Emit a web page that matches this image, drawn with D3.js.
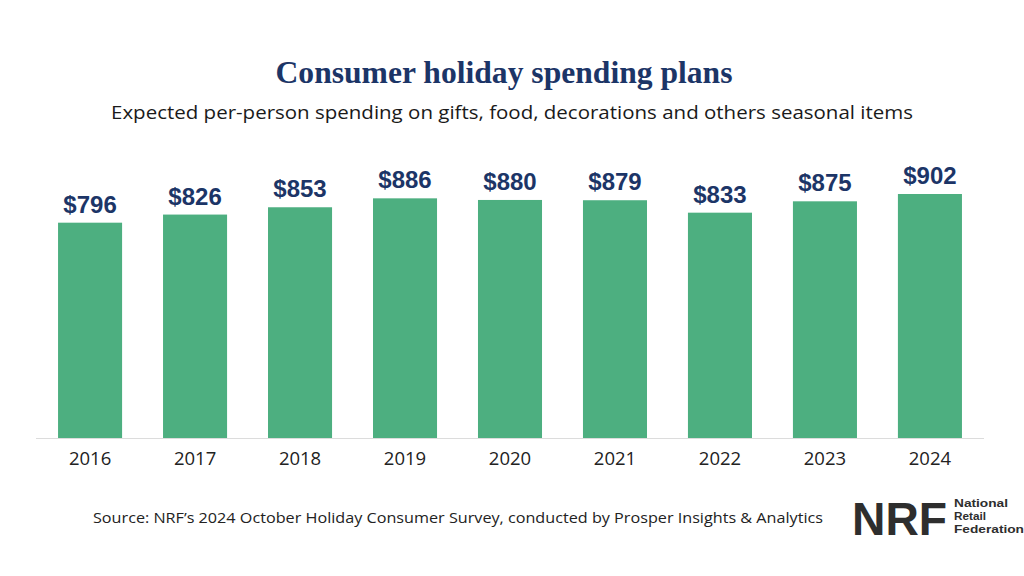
<!DOCTYPE html>
<html>
<head>
<meta charset="utf-8">
<script src="https://cdn.jsdelivr.net/npm/d3@7"></script>
<style>
  html, body { margin: 0; padding: 0; background: #ffffff; }
  svg { display: block; }
</style>
</head>
<body>
<svg id="chart" width="1024" height="576"></svg>
<script>
const years = ["2016", "2017", "2018", "2019", "2020", "2021", "2022", "2023", "2024"];
const spending = [796, 826, 853, 886, 880, 879, 833, 875, 902];
const titleText = "Consumer holiday spending plans";
const subtitleText = "Expected per-person spending on gifts, food, decorations and others seasonal items";
const sourceText = "Source: NRF\u2019s 2024 October Holiday Consumer Survey, conducted by Prosper Insights & Analytics";
const logoLines = ["National", "Retail", "Federation"];
const logoWidths = [54, 32, 70];

const svg = d3.select("#chart");
const W = 1024, H = 576;

svg.append("rect").attr("width", W).attr("height", H).attr("fill", "#ffffff");

const x = d3.scaleBand().domain(years).range([36, 984]).paddingInner(0.39).paddingOuter(0.21);
const y = d3.scaleLinear().domain([0, 1000]).range([438, 167.5]);

// Title
svg.append("text")
  .attr("x", 504).attr("y", 83)
  .attr("text-anchor", "middle")
  .attr("font-family", "'Liberation Serif', 'DejaVu Serif', serif")
  .attr("font-weight", "bold")
  .attr("font-size", 32)
  .attr("fill", "#1c3567")
  .attr("textLength", 457).attr("lengthAdjust", "spacingAndGlyphs")
  .text(titleText);

// Subtitle
svg.append("text")
  .attr("x", 512).attr("y", 119)
  .attr("text-anchor", "middle")
  .attr("font-family", "'Open Sans', 'Noto Sans', sans-serif")
  .attr("font-size", 18)
  .attr("fill", "#1a1a1a")
  .attr("textLength", 802).attr("lengthAdjust", "spacingAndGlyphs")
  .text(subtitleText);

// Bars
svg.append("g").selectAll("rect")
  .data(years.map((d, i) => ({ year: d, value: spending[i] })))
  .join("rect")
  .attr("x", d => x(d.year))
  .attr("y", d => y(d.value))
  .attr("width", x.bandwidth())
  .attr("height", d => y(0) - y(d.value))
  .attr("fill", "#4daf80");

// Value labels
svg.append("g").selectAll("text")
  .data(years.map((d, i) => ({ year: d, value: spending[i] })))
  .join("text")
  .attr("x", d => x(d.year) + x.bandwidth() / 2)
  .attr("y", d => y(d.value) - 10)
  .attr("text-anchor", "middle")
  .attr("font-family", "'Liberation Sans', Arial, sans-serif")
  .attr("font-weight", "bold")
  .attr("font-size", 24)
  .attr("fill", "#1c3567")
  .text(d => "$" + d3.format("d")(d.value));

// X axis
const xAxis = svg.append("g")
  .attr("transform", `translate(0,${y(0)})`)
  .call(d3.axisBottom(x).tickSize(0).tickPadding(14));
xAxis.select(".domain").attr("stroke", "#dcdcdc").attr("stroke-width", 1)
  .attr("d", `M${x.range()[0]},0.5H${x.range()[1]}`);
xAxis.selectAll(".tick text")
  .attr("font-family", "'Open Sans', 'Noto Sans', sans-serif")
  .attr("font-size", 18.5)
  .attr("fill", "#222222");

// Source
svg.append("text")
  .attr("x", 93).attr("y", 523)
  .attr("font-family", "'Open Sans', 'Noto Sans', sans-serif")
  .attr("font-size", 14.5)
  .attr("fill", "#222222")
  .attr("textLength", 730).attr("lengthAdjust", "spacingAndGlyphs")
  .text(sourceText);

// NRF logo
svg.append("text")
  .attr("x", 852).attr("y", 535)
  .attr("font-family", "'Liberation Sans', Arial, sans-serif")
  .attr("font-weight", "bold")
  .attr("font-size", 46)
  .attr("fill", "#2e2e2e")
  .attr("textLength", 95).attr("lengthAdjust", "spacingAndGlyphs")
  .text("NRF");
svg.append("g").selectAll("text")
  .data(logoLines)
  .join("text")
  .attr("x", 954)
  .attr("y", (d, i) => 507 + i * 13)
  .attr("font-family", "'Liberation Sans', Arial, sans-serif")
  .attr("font-weight", "bold")
  .attr("font-size", 11.5)
  .attr("fill", "#2e2e2e")
  .attr("textLength", (d, i) => logoWidths[i]).attr("lengthAdjust", "spacingAndGlyphs")
  .text(d => d);
</script>
</body>
</html>
